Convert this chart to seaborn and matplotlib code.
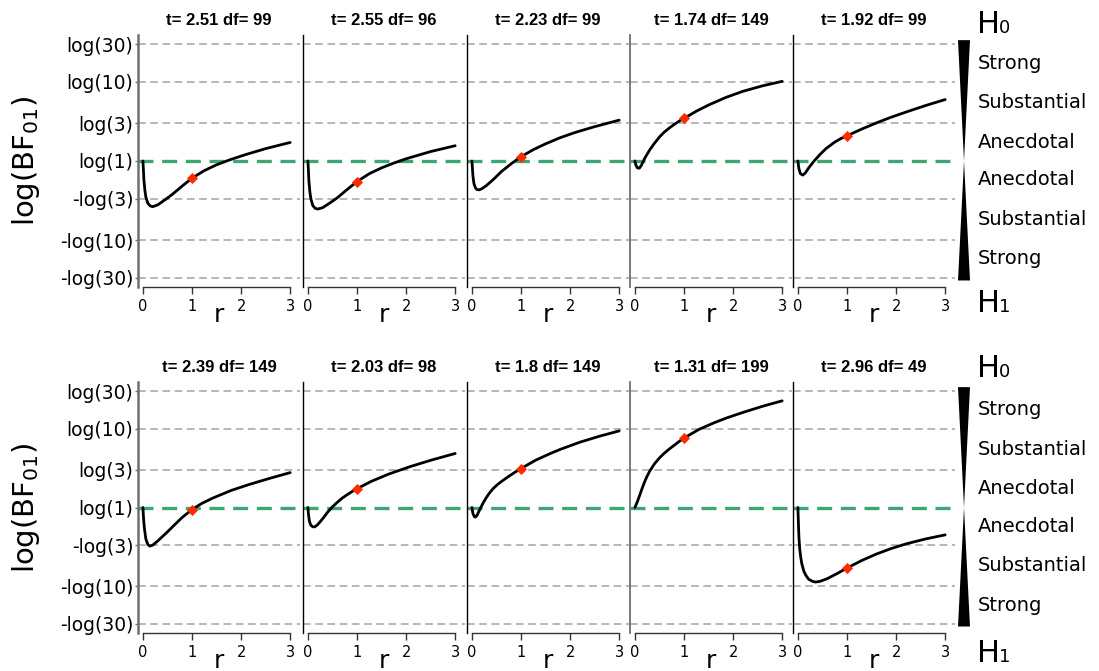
import numpy as np
import pandas as pd
import matplotlib
matplotlib.use("Agg")
import matplotlib.pyplot as plt
import seaborn as sns
from matplotlib.patches import Polygon

# ---------------- data ----------------
t_values = ["2.51", "2.55", "2.23", "1.74", "1.92", "2.39", "2.03", "1.8", "1.31", "2.96"]
df_values = [99, 96, 99, 149, 99, 149, 98, 149, 199, 49]

r1 = [0, 0.01, 0.02, 0.04, 0.06, 0.1, 0.15, 0.2, 0.3, 0.45, 0.6, 0.8, 1.0, 1.25, 1.5, 1.78, 2.1, 2.5, 3.0]
y1 = [0, -0.25, -0.55, -0.85, -1.05, -1.23, -1.31, -1.33, -1.28, -1.13, -0.97, -0.73, -0.50, -0.28, -0.11, 0.04, 0.19, 0.36, 0.54]

r2 = [0, 0.01, 0.02, 0.04, 0.06, 0.1, 0.15, 0.2, 0.3, 0.45, 0.6, 0.8, 1.0, 1.25, 1.5, 1.75, 2.0, 2.5, 3.0]
y2 = [0, -0.27, -0.58, -0.90, -1.10, -1.30, -1.38, -1.40, -1.36, -1.22, -1.07, -0.83, -0.60, -0.37, -0.20, -0.06, 0.065, 0.275, 0.445]

r3 = [0, 0.01, 0.02, 0.04, 0.07, 0.1, 0.15, 0.2, 0.3, 0.45, 0.6, 0.8, 1.0, 1.25, 1.5, 1.8, 2.1, 2.5, 3.0]
y3 = [0, -0.2, -0.42, -0.65, -0.78, -0.83, -0.84, -0.81, -0.71, -0.52, -0.31, -0.08, 0.125, 0.33, 0.50, 0.68, 0.83, 1.0, 1.19]

r4 = [0, 0.02, 0.05, 0.09, 0.13, 0.2, 0.3, 0.4, 0.5, 0.6, 0.7, 0.8, 0.9, 1.0, 1.25, 1.5, 1.85, 2.2, 2.6, 3.0]
y4 = [0, -0.12, -0.20, -0.21, -0.13, 0.08, 0.32, 0.52, 0.70, 0.845, 0.96, 1.065, 1.16, 1.24, 1.45, 1.63, 1.85, 2.03, 2.19, 2.32]

r5 = [0, 0.02, 0.05, 0.1, 0.15, 0.22, 0.33, 0.45, 0.57, 0.75, 0.87, 1.0, 1.3, 1.6, 1.87, 2.2, 2.6, 3.0]
y5 = [0, -0.22, -0.37, -0.41, -0.35, -0.20, 0.0, 0.19, 0.36, 0.55, 0.65, 0.735, 0.93, 1.11, 1.26, 1.425, 1.615, 1.79]

r6 = [0, 0.01, 0.02, 0.034, 0.06, 0.1, 0.14, 0.2, 0.3, 0.48, 0.65, 0.8, 1.0, 1.2, 1.43, 1.8, 2.18, 2.6, 3.0]
y6 = [0, -0.25, -0.45, -0.65, -0.92, -1.08, -1.13, -1.10, -0.98, -0.74, -0.50, -0.29, -0.06, 0.12, 0.28, 0.50, 0.68, 0.86, 1.02]

r7 = [0, 0.01, 0.03, 0.06, 0.1, 0.14, 0.2, 0.3, 0.4, 0.5, 0.6, 0.7, 0.8, 0.9, 1.0, 1.3, 1.65, 2.07, 2.5, 3.0]
y7 = [0, -0.18, -0.40, -0.52, -0.565, -0.565, -0.50, -0.33, -0.14, 0.02, 0.155, 0.275, 0.375, 0.465, 0.55, 0.77, 0.98, 1.19, 1.38, 1.58]

r8 = [0, 0.02, 0.05, 0.075, 0.1, 0.13, 0.17, 0.22, 0.28, 0.35, 0.43, 0.52, 0.62, 0.75, 0.87, 1.0, 1.3, 1.6, 1.8, 2.2, 2.6, 3.0]
y8 = [0, -0.17, -0.27, -0.28, -0.24, -0.15, -0.03, 0.11, 0.26, 0.41, 0.55, 0.67, 0.78, 0.91, 1.025, 1.14, 1.385, 1.58, 1.70, 1.91, 2.085, 2.24]

r9 = [0, 0.05, 0.1, 0.15, 0.2, 0.25, 0.3, 0.4, 0.5, 0.6, 0.7, 0.8, 0.9, 1.0, 1.3, 1.6, 1.87, 2.2, 2.6, 3.0]
y9 = [0, 0.17, 0.37, 0.57, 0.76, 0.92, 1.06, 1.28, 1.45, 1.59, 1.71, 1.82, 1.93, 2.03, 2.28, 2.47, 2.62, 2.78, 2.96, 3.12]

r10 = [0, 0.01, 0.02, 0.035, 0.055, 0.08, 0.12, 0.16, 0.22, 0.3, 0.36, 0.45, 0.6, 0.8, 1.0, 1.3, 1.6, 1.9, 2.2, 2.6, 3.0]
y10 = [0, -0.45, -0.84, -1.18, -1.43, -1.65, -1.86, -1.98, -2.10, -2.16, -2.18, -2.16, -2.08, -1.93, -1.77, -1.55, -1.36, -1.20, -1.065, -0.92, -0.80]

r_lists = [r1, r2, r3, r4, r5, r6, r7, r8, r9, r10]
y_lists = [y1, y2, y3, y4, y5, y6, y7, y8, y9, y10]

# value at the default prior scale r = 1 (red diamond)
r_default = 1.0
y_at_default = [-0.50, -0.60, 0.125, 1.24, 0.735, -0.06, 0.55, 1.14, 2.03, -1.77]

ytick_bf = [30, 10, 3, 1, 1 / 3, 1 / 10, 1 / 30]
ytick_labels = ["log(30)", "log(10)", "log(3)", "log(1)", "-log(3)", "-log(10)", "-log(30)"]
evidence_labels = ["Strong", "Substantial", "Anecdotal", "Anecdotal", "Substantial", "Strong"]

# ---------------- styling ----------------
sns.set_theme(style="white")
plt.rcParams['font.family'] = ['DejaVu Sans']
plt.rcParams['mathtext.fontset'] = 'dejavusans'
plt.rcParams.update({
    "text.color": "black", "axes.labelcolor": "black",
    "xtick.color": "black", "ytick.color": "black",
    "xtick.labelcolor": "black", "ytick.labelcolor": "black",
})

W, H = 1099, 671
fig = plt.figure(figsize=(W / 100, H / 100), dpi=100)

lefts = [138, 303, 467, 630, 793]
panel_w = 162
rows = [(35, 287), (382, 633)]
ylim = (-3.67, 3.67)
green = "#3ea672"
grid_col = "#a3a3a3"
red = "#ff2a00"

ytick_pos = np.log(ytick_bf)
grid_pos = [v for v in ytick_pos if abs(v) > 1e-9]
label_pos = [np.log(np.sqrt(a * b)) for a, b in zip(ytick_bf[:-1], ytick_bf[1:])]

for ri, (ytop, ybot) in enumerate(rows):
    for ci in range(5):
        k = ri * 5 + ci
        ax = fig.add_axes([lefts[ci] / W, 1 - ybot / H, panel_w / W, (ybot - ytop) / H])
        ax.set_facecolor('none')
        for v in grid_pos:
            ax.axhline(v, color=grid_col, lw=1.1, ls=(0, (5, 3)), zorder=1)
        ax.axhline(0, color=green, lw=2.4, ls=(0, (4.5, 2.6)), zorder=2)
        data = pd.DataFrame({"r": r_lists[k], "logbf": y_lists[k]})
        sns.lineplot(data=data, x="r", y="logbf", ax=ax, color="black", lw=2.0,
                     sort=False, estimator=None, zorder=3)
        sns.scatterplot(x=[r_default], y=[y_at_default[k]], ax=ax, marker="D", color=red,
                        s=32, linewidth=0, zorder=5)
        ax.set_xlim(-0.1, 3.2)
        ax.set_ylim(*ylim)
        for s in ["top", "right"]:
            ax.spines[s].set_visible(False)
        ax.spines["bottom"].set_bounds(0, 3)
        ax.spines["bottom"].set_color("#333333")
        ax.spines["bottom"].set_linewidth(1.0)
        if ci in (0, 3):
            ax.spines["left"].set_color("#707070")
            ax.spines["left"].set_linewidth(1.8 if ci == 0 else 1.3)
        else:
            ax.spines["left"].set_color("black")
            ax.spines["left"].set_linewidth(1.0)
        ax.set_xticks([0, 1, 2, 3])
        ax.set_xticklabels(["0", "1", "2", "3"])
        ax.tick_params(axis="x", direction="out", length=5, width=1, labelsize=10.5, pad=3.5,
                       color="#333333", labelcolor="black", bottom=True)
        ax.set_xlabel("r", fontsize=18, labelpad=-8, color="black")
        if ci == 0:
            ax.set_yticks(ytick_pos)
            ax.set_yticklabels(ytick_labels)
            ax.tick_params(axis="y", direction="out", length=2.5, width=1, labelsize=13.5, pad=1,
                           color="#707070", labelcolor="black", left=True)
        else:
            ax.set_yticks([])
        ax.set_ylabel("")
        ax.set_title(f"t= {t_values[k]} df= {df_values[k]}", fontsize=12, fontweight="bold",
                     family="Liberation Sans", pad=7.5, color="black")

    # y-axis label for the row
    yc = 1 - ((ytop + ybot) / 2) / H
    fig.text(26 / W, yc, r"log(BF$_{\mathregular{01}}$)", rotation=90, fontsize=21,
             ha="center", va="center", color="black")

    # evidence bar on the right
    axr = fig.add_axes([950 / W, 1 - ybot / H, 149 / W, (ybot - ytop) / H])
    axr.set_xlim(0, 149)
    axr.set_ylim(*ylim)
    axr.axis("off")
    axr.add_patch(Polygon([(8, 3.52), (20, 3.52), (14, 0)], closed=True, color="black", lw=0))
    axr.add_patch(Polygon([(14, 0), (8, -3.48), (20, -3.48)], closed=True, color="black", lw=0))
    for lab, yp in zip(evidence_labels, label_pos):
        axr.text(28, yp, lab, fontsize=14, ha="left", va="center", color="black")

    # H0 / H1 labels
    h0_base = [33, 377][ri]
    h1_base = [312, 662][ri]
    for base, sub in [(h0_base, "0"), (h1_base, "1")]:
        fig.text(977 / W, 1 - base / H, "H", fontsize=22, ha="left", va="baseline", color="black")
        fig.text(999 / W, 1 - base / H, sub, fontsize=13, ha="left", va="baseline", color="black")

fig.savefig("out.png", dpi=100)
